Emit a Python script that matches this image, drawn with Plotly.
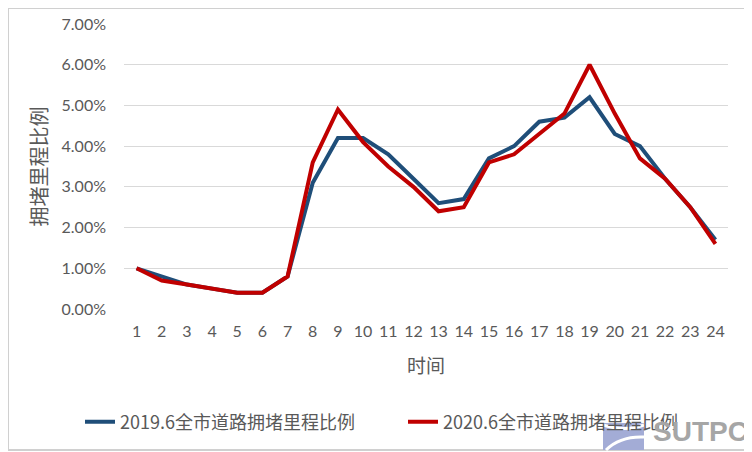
import plotly.graph_objects as go

hours = [str(i) for i in range(1, 25)]
y2019 = [1.0, 0.8, 0.6, 0.5, 0.4, 0.4, 0.8, 3.1, 4.2, 4.2, 3.8, 3.2, 2.6, 2.7, 3.7, 4.0, 4.6, 4.7, 5.2, 4.3, 4.0, 3.2, 2.5, 1.7]
y2020 = [1.0, 0.7, 0.6, 0.5, 0.4, 0.4, 0.8, 3.6, 4.9, 4.1, 3.5, 3.0, 2.4, 2.5, 3.6, 3.8, 4.3, 4.8, 6.0, 4.8, 3.7, 3.2, 2.5, 1.6]
name2019 = "2019.6全市道路拥堵里程比例"
name2020 = "2020.6全市道路拥堵里程比例"
yticks = [0, 1, 2, 3, 4, 5, 6, 7]
yticklabels = ["0.00%", "1.00%", "2.00%", "3.00%", "4.00%", "5.00%", "6.00%", "7.00%"]

cjk = "Noto Sans CJK SC"
numfont = "Lato"
gray = "#595959"

fig = go.Figure()
fig.add_trace(go.Scatter(x=hours, y=[v / 100 for v in y2019], mode="lines", name=name2019,
                         line=dict(color="#1F4E79", width=4)))
fig.add_trace(go.Scatter(x=hours, y=[v / 100 for v in y2020], mode="lines", name=name2020,
                         line=dict(color="#C00000", width=4)))

# page has an 8px body margin: figure occupies screen 8..752 x 8..452
OFF = 8
W, H = 752 - OFF, 452 - OFF
PL, PR, PT, PB = 124, 728, 24, 309  # plot area in screen px
L, R, T, B = PL - OFF, 752 - PR, PT - OFF, 452 - PB
pw, ph = PR - PL, PB - PT


def px(sx):
    return (sx - PL) / pw


def py(sy):
    return (PB - sy) / ph


fig.update_layout(
    width=W, height=H,
    margin=dict(l=L, r=R, t=T, b=B, autoexpand=False),
    paper_bgcolor="white", plot_bgcolor="white",
    showlegend=True,
    legend=dict(orientation="h", x=px(80), xanchor="left", y=py(422), yanchor="middle",
                font=dict(family=cjk, size=18, color=gray), itemwidth=30,
                entrywidth=278, entrywidthmode="pixels",
                tracegroupgap=0, bgcolor="rgba(0,0,0,0)"),
    xaxis=dict(type="category", showgrid=False, showline=False, ticks="",
               ticklabelstandoff=11,
               tickfont=dict(family=numfont, size=16, color=gray),
               title=dict(text="时间", font=dict(family=cjk, size=19, color=gray), standoff=20),
               range=[-0.5, 23.5]),
    yaxis=dict(range=[0, 0.07], tickvals=[v / 100 for v in yticks], ticktext=yticklabels,
               showgrid=True, gridcolor="#D9D9D9", gridwidth=1, zeroline=False,
               showline=False, ticks="", ticklabelstandoff=17,
               tickfont=dict(family=numfont, size=16, color=gray),
               title=dict(text="拥堵里程比例", font=dict(family=cjk, size=20, color=gray), standoff=8)),
)

# chart border (figure edges)
fig.add_shape(type="rect", xref="paper", yref="paper",
              x0=px(OFF), x1=px(750.5), y0=py(450), y1=py(OFF),
              line=dict(color="#D0D0D0", width=2), fillcolor="rgba(0,0,0,0)", layer="below")

# watermark logo
fig.add_shape(type="rect", xref="paper", yref="paper",
              x0=px(603), x1=px(644), y0=py(450), y1=py(423),
              line=dict(width=0), fillcolor="#A3ACD6", layer="above")
fig.add_shape(type="path", xref="paper", yref="paper",
              path=f"M {px(603)},{py(425)} Q {px(625)},{py(432)} {px(644)},{py(425)}",
              line=dict(color="white", width=3), layer="above")
fig.add_shape(type="path", xref="paper", yref="paper",
              path=f"M {px(606)},{py(450)} Q {px(620)},{py(436)} {px(644)},{py(437)}",
              line=dict(color="white", width=3), layer="above")
fig.add_annotation(xref="paper", yref="paper", x=px(750), y=py(449),
                   xanchor="right", yanchor="bottom", text="<b>SUTPC</b>", showarrow=False,
                   font=dict(family="Liberation Sans", size=28, color="#A6A6A6"))

fig.write_html("out.html")
